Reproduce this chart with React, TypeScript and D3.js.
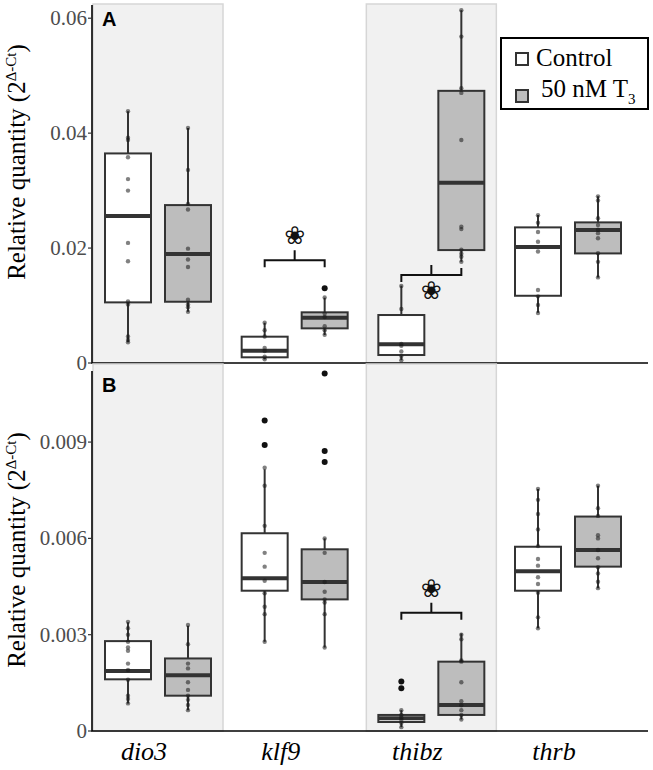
import React from "react";
import * as d3 from "d3";

const genes = ["dio3", "klf9", "thibz", "thrb"];
const groups = ["Control", "50 nM T3"];
const shadedGenes = ["dio3", "thibz"];

// [whiskerLow, q1, median, q3, whiskerHigh] per gene
const aCtrlStats = [
  [0.0036, 0.01055, 0.02557, 0.03647, 0.0438],
  [0.00064, 0.00099, 0.00214, 0.00458, 0.007],
  [0.0005, 0.00139, 0.00325, 0.00835, 0.01345],
  [0.00875, 0.0117, 0.0202, 0.0236, 0.02574],
];
const aT3Stats = [
  [0.0089, 0.01066, 0.01896, 0.02748, 0.0409],
  [0.00487, 0.00603, 0.00788, 0.00882, 0.01136],
  [0.01762, 0.01965, 0.03136, 0.04736, 0.0614],
  [0.0149, 0.01907, 0.02313, 0.02447, 0.029],
];
const bCtrlStats = [
  [0.00086, 0.00161, 0.00187, 0.0028, 0.00339],
  [0.00278, 0.00437, 0.00476, 0.00616, 0.00815],
  [0.00012, 0.00028, 0.0004, 0.0005, 0.00065],
  [0.0032, 0.00437, 0.00498, 0.00574, 0.00754],
];
const bT3Stats = [
  [0.00065, 0.0011, 0.00174, 0.00226, 0.00328],
  [0.0026, 0.0041, 0.00464, 0.00566, 0.006],
  [0.00036, 0.0005, 0.00081, 0.00216, 0.00304],
  [0.00445, 0.00512, 0.00564, 0.00668, 0.00764],
];

const aCtrlPoints = [
  [0.0438, 0.0392, 0.0388, 0.0358, 0.032, 0.03, 0.0209, 0.0177, 0.0107, 0.0102, 0.0046, 0.004, 0.0036],
  [0.007, 0.0057, 0.0046, 0.0026, 0.0021, 0.0011, 0.00064],
  [0.0134, 0.0094, 0.0033, 0.003, 0.002, 0.0012, 0.0005],
  [0.0257, 0.0244, 0.0228, 0.0211, 0.0194, 0.0127, 0.0116, 0.0101, 0.0087],
];
const aT3Points = [
  [0.0409, 0.0336, 0.0277, 0.0267, 0.0199, 0.018, 0.0167, 0.011, 0.0102, 0.0097, 0.0089],
  [0.0114, 0.0086, 0.008, 0.0064, 0.0057, 0.0049],
  [0.0614, 0.0568, 0.0478, 0.047, 0.0388, 0.0237, 0.0233, 0.0197, 0.019, 0.0185, 0.0176],
  [0.029, 0.0283, 0.0252, 0.024, 0.0232, 0.0226, 0.0217, 0.0191, 0.0176, 0.0149],
];
const bCtrlPoints = [
  [0.0034, 0.0032, 0.003, 0.00278, 0.0026, 0.0025, 0.0021, 0.0019, 0.0016, 0.0011, 0.001, 0.00086],
  [0.0082, 0.00764, 0.00639, 0.00555, 0.00512, 0.00468, 0.00429, 0.00387, 0.00364, 0.00278],
  [0.00065, 0.0005, 0.00042, 0.00035, 0.00025, 0.00012],
  [0.00754, 0.0072, 0.00676, 0.00628, 0.00576, 0.00536, 0.00515, 0.00479, 0.00458, 0.00431, 0.00354, 0.0032],
];
const bT3Points = [
  [0.0033, 0.0027, 0.0021, 0.00195, 0.00152, 0.00128, 0.0011, 0.00097, 0.00081, 0.00065],
  [0.006, 0.00555, 0.00464, 0.00434, 0.0041, 0.004, 0.00364, 0.0026],
  [0.003, 0.00286, 0.0022, 0.00216, 0.00152, 0.00093, 0.0008, 0.00065, 0.0005, 0.00036],
  [0.00764, 0.00694, 0.0067, 0.0061, 0.006, 0.00564, 0.00538, 0.0051, 0.00491, 0.00465, 0.00445],
];

const aCtrlOutliers = [[], [], [], []];
const aT3Outliers = [[], [0.013], [], []];
const bCtrlOutliers = [[], [0.00967, 0.00891], [0.00154, 0.00133], []];
const bT3Outliers = [[], [0.01114, 0.00872, 0.00838], [], []];

const aTicks = [0, 0.02, 0.04, 0.06];
const aTickLabels = ["0", "0.02", "0.04", "0.06"];
const bTicks = [0, 0.003, 0.006, 0.009];
const bTickLabels = ["0", "0.003", "0.006", "0.009"];

// significance brackets: gene, bracket value level
const aSig = [
  { gene: "klf9", level: 0.0179, style: "up" },
  { gene: "thibz", level: 0.0153, style: "below" },
];
const bSig = [{ gene: "thibz", level: 0.00368, style: "up" }];

const W = 653;
const H = 770;
const axisX = 92;
const axisRight = 648;
const serif = "'Liberation Serif', 'DejaVu Serif', serif";

const x = d3.scalePoint<string>().domain(genes).range([158, 568]);
const dodge = d3.scalePoint<string>().domain(groups).range([-30, 30]);
const boxW = 46;
const bandHalf = 65;

const yA = d3.scaleLinear().domain([0, 0.0623]).range([363, 5]);
const yB = d3.scaleLinear().domain([0, 0.01137]).range([731, 366]);

const fills = ["#ffffff", "#bdbdbd"];
const stroke = "#333333";

function Panel({
  y,
  stats,
  points,
  outliers,
  ticks,
  tickLabels,
  sig,
  label,
  bandTop,
  axisTop,
  titleY,
}: any) {
  const [y0] = y.range();
  return (
    <g>
      {shadedGenes.map((g) => (
        <rect
          key={g}
          x={Math.max(axisX + 1, x(g)! - bandHalf)}
          y={bandTop}
          width={x(g)! + bandHalf - Math.max(axisX + 1, x(g)! - bandHalf)}
          height={y0 - bandTop}
          fill="#f1f1f1"
          stroke="#d6d6d6"
          strokeWidth={1.5}
        />
      ))}
      {groups.map((grp, gi) =>
        genes.map((g, i) => {
          const [lo, q1, med, q3, hi] = stats[gi][i];
          const cx = x(g)! + dodge(grp)!;
          return (
            <g key={grp + g}>
              <line x1={cx} x2={cx} y1={y(lo)} y2={y(hi)} stroke={stroke} strokeWidth={2} />
              <rect
                x={cx - boxW / 2}
                y={y(q3)}
                width={boxW}
                height={y(q1) - y(q3)}
                fill={fills[gi]}
                stroke={stroke}
                strokeWidth={2}
              />
              <line
                x1={cx - boxW / 2}
                x2={cx + boxW / 2}
                y1={y(med)}
                y2={y(med)}
                stroke={stroke}
                strokeWidth={4}
              />
              {points[gi][i].map((v: number, k: number) => (
                <circle key={k} cx={cx} cy={y(v)} r={2.2} fill="#1a1a1a" fillOpacity={0.55} />
              ))}
              {outliers[gi][i].map((v: number, k: number) => (
                <circle key={"o" + k} cx={cx} cy={y(v)} r={3} fill="#111" />
              ))}
            </g>
          );
        })
      )}
      {/* axes */}
      <line x1={axisX} x2={axisX} y1={axisTop} y2={y0} stroke="#000" strokeWidth={1.6} />
      <line x1={axisX - 1} x2={axisRight} y1={y0} y2={y0} stroke="#000" strokeWidth={1.6} />
      {ticks.map((t: number, i: number) => (
        <g key={t}>
          <line x1={axisX - 4} x2={axisX} y1={y(t)} y2={y(t)} stroke="#333" strokeWidth={1.2} />
          <text
            x={axisX - 5}
            y={y(t)}
            dy="0.33em"
            textAnchor="end"
            fontFamily={serif}
            fontSize={21}
            fill="#4d4d4d"
          >
            {tickLabels[i]}
          </text>
        </g>
      ))}
      {/* significance */}
      {sig.map((s: any) => {
        const xl = x(s.gene)! + dodge(groups[0])!;
        const xr = x(s.gene)! + dodge(groups[1])!;
        const xm = (xl + xr) / 2;
        const yy = y(s.level);
        const rightTip = s.style === "below" ? -7 : 7;
        const leftTip = 7;
        return (
          <g key={s.gene}>
            <path
              d={`M${xl},${yy + leftTip}V${yy}H${xr}V${yy + rightTip}M${xm},${yy}V${yy - 10}`}
              fill="none"
              stroke="#111"
              strokeWidth={2}
            />
            <text
              x={xm}
              y={s.style === "below" ? yy + 15 : yy - 25}
              dy="0.36em"
              textAnchor="middle"
              fontFamily="'DejaVu Sans'"
              fontSize={25}
              fill="#111"
            >
              {"\u2740\uFE0E"}
            </text>
          </g>
        );
      })}
      <text
        x={102}
        y={label === "A" ? 26 : 392}
        fontFamily="'Liberation Sans', Arial, sans-serif"
        fontWeight="bold"
        fontSize={20}
        fill="#000"
      >
        {label}
      </text>
      <text
        transform={`translate(25,${titleY}) rotate(-90)`}
        textAnchor="middle"
        fontFamily={serif}
        fontSize={25}
        fill="#000"
      >
        Relative quantity (2
        <tspan dy={-9} fontSize={15}>
          Δ-Ct
        </tspan>
        <tspan dy={9}>)</tspan>
      </text>
    </g>
  );
}

export default function App() {
  return (
    <svg
      width={W}
      height={H}
      style={{ position: "absolute", left: 0, top: 0, background: "#fff" }}
    >
      <rect width={W} height={H} fill="#fff" />
      <Panel
        y={yA}
        stats={[aCtrlStats, aT3Stats]}
        points={[aCtrlPoints, aT3Points]}
        outliers={[aCtrlOutliers, aT3Outliers]}
        ticks={aTicks}
        tickLabels={aTickLabels}
        sig={aSig}
        label="A"
        bandTop={4}
        axisTop={5}
        titleY={162}
      />
      <Panel
        y={yB}
        stats={[bCtrlStats, bT3Stats]}
        points={[bCtrlPoints, bT3Points]}
        outliers={[bCtrlOutliers, bT3Outliers]}
        ticks={bTicks}
        tickLabels={bTickLabels}
        sig={bSig}
        label="B"
        bandTop={364}
        axisTop={371}
        titleY={550}
      />
      {genes.map((g) => (
        <text
          key={g}
          x={x(g)! - 14}
          y={760}
          textAnchor="middle"
          fontFamily="'Liberation Serif'"
          fontStyle="italic"
          fontSize={26}
          fill="#000"
        >
          {g}
        </text>
      ))}
      {/* legend */}
      <g>
        <rect x={501} y={38} width={147} height={71} fill="#fff" stroke="#000" strokeWidth={2} />
        {groups.map((grp, i) => (
          <g key={grp}>
            <rect
              x={516}
              y={53 + i * 37}
              width={12}
              height={12}
              fill={fills[i]}
              stroke={stroke}
              strokeWidth={2}
            />
            <text x={i === 0 ? 536 : 541} y={66 + i * 31} fontFamily={serif} fontSize={25} fill="#000">
              {i === 0 ? (
                "Control"
              ) : (
                <>
                  50 nM T
                  <tspan dy={7} fontSize={15}>
                    3
                  </tspan>
                </>
              )}
            </text>
          </g>
        ))}
      </g>
    </svg>
  );
}
